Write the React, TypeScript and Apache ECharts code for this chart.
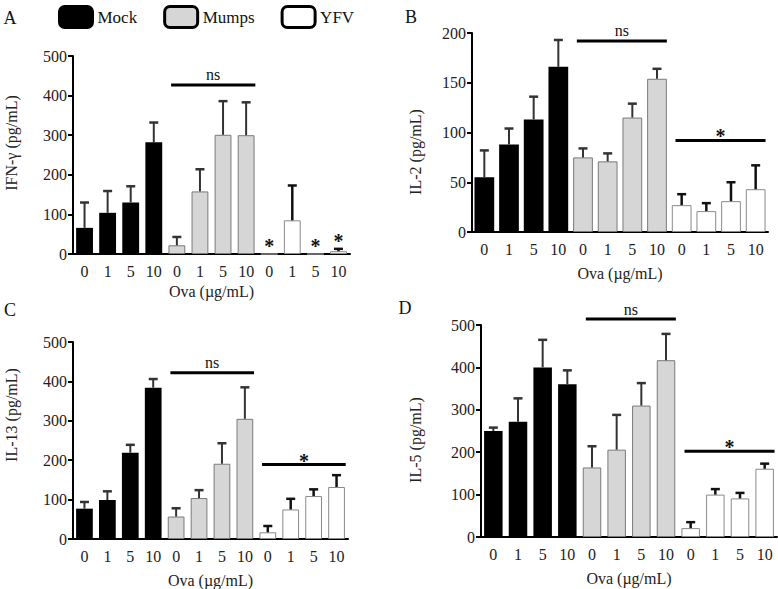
import React, { useEffect, useRef } from "react";
import * as echarts from "echarts";

// ---- data ----
const doses = ["0", "1", "5", "10"];
const categories = [...doses, ...doses, ...doses];
const groups = ["Mock", "Mumps", "YFV"];

// Panel A: IFN-γ
const ifngMean = [66, 104, 130, 282, 22, 158, 301, 300, 0, 85, 0, 7];
const ifngErrTop = [130, 159, 171, 332, 43, 214, 386, 383, 0, 173, 0, 13];
const ifngStars = [8, 10, 11];
const ifngSig = [{ from: 4, to: 7, value: 427, label: "ns" }];

// Panel B: IL-2
const il2Mean = [55, 88, 113, 166, 75, 71, 115, 154, 27, 21, 31, 43];
const il2ErrTop = [82, 104, 136, 193, 84, 79, 129, 164, 38, 29, 50, 67];
const il2Sig = [
  { from: 4, to: 7, value: 192, label: "ns" },
  { from: 8, to: 11, value: 92, label: "*" },
];

// Panel C: IL-13
const il13Mean = [77, 99, 219, 384, 57, 104, 191, 305, 17, 75, 109, 132];
const il13ErrTop = [94, 121, 239, 406, 78, 124, 243, 385, 33, 102, 126, 162];
const il13Sig = [
  { from: 4, to: 7, value: 422, label: "ns" },
  { from: 8, to: 11, value: 189, label: "*" },
];

// Panel D: IL-5
const il5Mean = [250, 272, 400, 360, 164, 206, 310, 417, 21, 100, 91, 161];
const il5ErrTop = [258, 327, 465, 393, 214, 288, 363, 479, 35, 113, 104, 173];
const il5Sig = [
  { from: 4, to: 7, value: 514, label: "ns" },
  { from: 8, to: 11, value: 202, label: "*" },
];

const FONT = "Liberation Serif";

const panels = [
  {
    letter: "A", yName: "IFN-\u03b3 (pg/mL)", max: 500, interval: 100,
    mean: ifngMean, top: ifngErrTop, sig: ifngSig, stars: ifngStars,
    grid: { left: 73, top: 56, width: 277, height: 198 },
    letterPos: [10, 18], namePos: [11, 143], barWidth: "73%",
  },
  {
    letter: "B", yName: "IL-2 (pg/mL)", max: 200, interval: 50,
    mean: il2Mean, top: il2ErrTop, sig: il2Sig, stars: [] as number[],
    grid: { left: 472, top: 33, width: 296, height: 199 },
    letterPos: [411, 17], namePos: [415, 152], barWidth: "80%",
  },
  {
    letter: "C", yName: "IL-13 (pg/mL)", max: 500, interval: 100,
    mean: il13Mean, top: il13ErrTop, sig: il13Sig, stars: [] as number[],
    grid: { left: 73, top: 342, width: 275, height: 197 },
    letterPos: [10, 310], namePos: [11, 415], barWidth: "73%",
  },
  {
    letter: "D", yName: "IL-5 (pg/mL)", max: 500, interval: 100,
    mean: il5Mean, top: il5ErrTop, sig: il5Sig, stars: [] as number[],
    grid: { left: 481, top: 325, width: 296, height: 212 },
    letterPos: [405, 308], namePos: [415, 440], barWidth: "75%",
  },
];

const groupStyles = [
  { color: "#000000" },
  { color: "#d6d6d6", borderColor: "#7a7a7a", borderWidth: 1 },
  { color: "#ffffff", borderColor: "#8a8a8a", borderWidth: 1 },
];
const errStyles = [
  { stroke: "#333333", lineWidth: 2 },
  { stroke: "#333333", lineWidth: 2 },
  { stroke: "#111111", lineWidth: 2.5 },
];

export default function App() {
  const ref = useRef<HTMLDivElement>(null);

  useEffect(() => {
    if (!ref.current) return;
    const chart = echarts.init(ref.current, undefined, { renderer: "svg" });

    const grids: any[] = [];
    const xAxes: any[] = [];
    const yAxes: any[] = [];
    const series: any[] = [];
    const graphics: any[] = [];

    panels.forEach((p, pi) => {
      grids.push({ ...p.grid, containLabel: false });
      xAxes.push({
        type: "category",
        gridIndex: pi,
        data: categories,
        axisLine: { lineStyle: { color: "#000", width: 2 } },
        axisTick: { alignWithLabel: true, length: 5, lineStyle: { color: "#000", width: 2.5 } },
        axisLabel: { interval: 0, fontFamily: FONT, fontSize: 16, color: "#222", margin: 9 },
        name: "Ova (\u00b5g/mL)",
        nameLocation: "middle",
        nameGap: pi === 0 ? 29 : 33,
        nameTextStyle: { fontFamily: FONT, fontSize: 16, color: "#222" },
      });
      yAxes.push({
        type: "value",
        gridIndex: pi,
        min: 0,
        max: p.max,
        interval: p.interval,
        axisLine: { show: true, lineStyle: { color: "#000", width: 2 } },
        axisTick: { show: true, length: 5, lineStyle: { color: "#000", width: 2 } },
        axisLabel: { fontFamily: FONT, fontSize: 16, color: "#222", margin: 6 },
        splitLine: { show: false },
      });

      groups.forEach((g, gi) => {
        series.push({
          type: "bar",
          name: g,
          xAxisIndex: pi,
          yAxisIndex: pi,
          barWidth: p.barWidth,
          barGap: "-100%",
          itemStyle: groupStyles[gi],
          data: p.mean.map((v, i) => (Math.floor(i / 4) === gi ? v : "-")),
          z: 2,
        });
      });

      series.push({
        type: "custom",
        xAxisIndex: pi,
        yAxisIndex: pi,
        clip: false,
        z: 3,
        data: p.mean.map((v, i) => [i, v, p.top[i]]),
        renderItem: (params: any, api: any) => {
          const x = api.value(0);
          const m = api.value(1);
          const t = api.value(2);
          if (!(t > m)) return null;
          const p0 = api.coord([x, m]);
          const p1 = api.coord([x, t]);
          const st = errStyles[Math.floor(x / 4)];
          const w = 4.5;
          return {
            type: "group",
            children: [
              { type: "line", shape: { x1: p0[0], y1: p0[1], x2: p1[0], y2: p1[1] }, style: { ...st } },
              { type: "line", shape: { x1: p1[0] - w, y1: p1[1], x2: p1[0] + w, y2: p1[1] }, style: { stroke: st.stroke, lineWidth: 2.5 } },
            ],
          };
        },
      });

      series.push({
        type: "custom",
        xAxisIndex: pi,
        yAxisIndex: pi,
        clip: false,
        z: 4,
        data: p.sig.map((s) => [s.from, s.value]),
        renderItem: (params: any, api: any) => {
          const s = p.sig[params.dataIndex];
          const band = api.size([1, 0])[0];
          const a = api.coord([s.from, s.value]);
          const b = api.coord([s.to, s.value]);
          const x1 = a[0] - 0.25 * band;
          const x2 = b[0] + 0.4 * band;
          const isStar = s.label === "*";
          return {
            type: "group",
            children: [
              { type: "line", shape: { x1, y1: a[1], x2, y2: a[1] }, style: { stroke: "#000", lineWidth: 3 } },
              {
                type: "text",
                x: (x1 + x2) / 2,
                y: isStar ? a[1] - 4 : a[1] - 10,
                style: {
                  text: s.label,
                  fontFamily: FONT,
                  fontSize: isStar ? 20 : 16,
                  fontWeight: isStar ? "bold" : "normal",
                  fill: "#111",
                  align: "center",
                  verticalAlign: "middle",
                },
              },
            ],
          };
        },
      });

      if (p.stars.length) {
        series.push({
          type: "custom",
          xAxisIndex: pi,
          yAxisIndex: pi,
          clip: false,
          z: 4,
          data: p.stars.map((i) => [i, p.top[i]]),
          renderItem: (params: any, api: any) => {
            const c = api.coord([api.value(0), api.value(1)]);
            return {
              type: "text",
              x: c[0],
              y: c[1] - 8,
              style: {
                text: "*",
                fontFamily: FONT,
                fontSize: 20,
                fontWeight: "bold",
                fill: "#111",
                align: "center",
                verticalAlign: "middle",
              },
            };
          },
        });
      }

      graphics.push({
        type: "text",
        x: p.letterPos[0],
        y: p.letterPos[1],
        style: { text: p.letter, fontFamily: FONT, fontSize: 18, fill: "#111", align: "center", verticalAlign: "middle" },
      });
      graphics.push({
        type: "text",
        x: p.namePos[0],
        y: p.namePos[1],
        rotation: Math.PI / 2,
        style: { text: p.yName, fontFamily: FONT, fontSize: 16, fill: "#222", align: "center", verticalAlign: "middle" },
      });
    });

    chart.setOption({
      animation: false,
      backgroundColor: "#ffffff",
      textStyle: { fontFamily: FONT },
      legend: {
        data: groups,
        left: 53,
        top: 0,
        icon: "roundRect",
        itemWidth: 33,
        itemHeight: 21,
        itemGap: 26,
        selectedMode: false,
        itemStyle: { borderColor: "#000", borderWidth: 3 },
        textStyle: { fontFamily: FONT, fontSize: 17, color: "#111" },
      },
      grid: grids,
      xAxis: xAxes,
      yAxis: yAxes,
      series,
      graphic: graphics,
    });

    return () => chart.dispose();
  }, []);

  return (
    <div
      ref={ref}
      style={{ position: "fixed", left: 0, top: 0, width: 778, height: 589, background: "#fff" }}
    />
  );
}
